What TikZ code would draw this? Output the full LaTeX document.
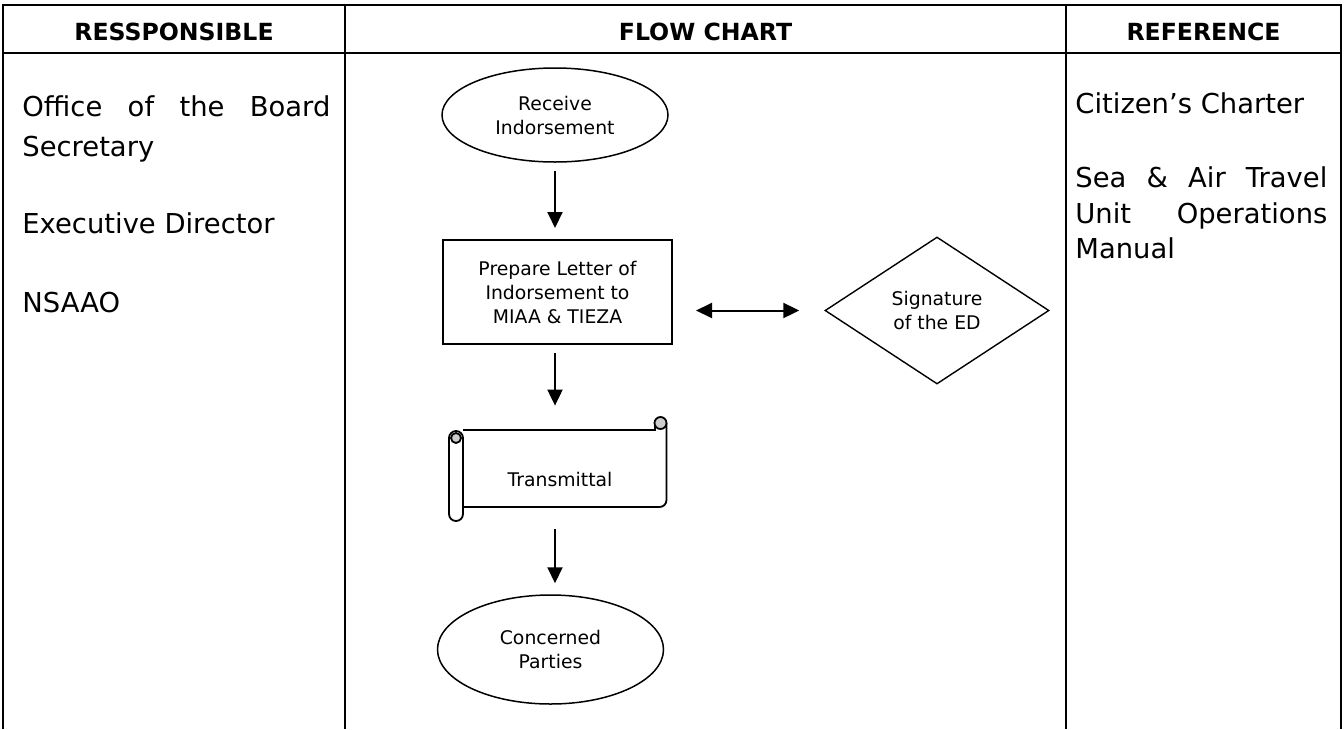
\documentclass[tikz,border=0pt]{standalone}
\usepackage{fontspec}
\setmainfont{DejaVu Sans}
\usetikzlibrary{shapes.geometric,arrows.meta,positioning}

\tikzset{
  cell/.style={font=\fontsize{13.7}{19}\selectfont, anchor=base west, inner sep=0pt},
  headtext/.style={font=\bfseries\fontsize{11.8}{14}\selectfont, anchor=base, inner sep=0pt},
  flowtext/.style={font=\fontsize{9.4}{12}\selectfont, align=center},
  terminal/.style={flowtext, draw, ellipse, line width=0.75pt, minimum width=113pt, minimum height=47pt, inner sep=0pt},
  process/.style={flowtext, draw, rectangle, line width=1pt, minimum width=114.5pt, minimum height=52pt, inner sep=0pt},
  decision/.style={flowtext, draw, diamond, line width=0.7pt, minimum width=112pt, minimum height=73.5pt, inner sep=0pt},
  flowarrow/.style={-{Triangle[length=8pt,width=7.5pt]}, line width=1pt, shorten <=4pt, shorten >=5.5pt},
  scrollline/.style={line width=0.9pt},
}

\begin{document}
\begin{tikzpicture}[x=0.5pt,y=-0.5pt]
    \useasboundingbox (0,0) rectangle (1344,729);
    % Table
    \draw[line width=1.2pt] (3,729) -- (3,5) -- (1341,5) -- (1341,729);
    \draw[line width=1.2pt] (3,53) -- (1341,53);
    \draw[line width=1.2pt] (345,5) -- (345,729);
    \draw[line width=1.2pt] (1066,5) -- (1066,729);

    % Header
    \node[headtext] (hresp) at (174,40) {RESSPONSIBLE};
    \node[headtext] (hflow) at (705.5,40) {FLOW CHART};
    \node[headtext] (href) at (1203.5,40) {REFERENCE};

    % Responsible column
    \node[cell] (board) at (22,116) {\makebox[154pt][s]{Office of the Board}};
    \node[cell] (secr) at (22,156) {Secretary};
    \node[cell] (exdir) at (22,233) {Executive Director};
    \node[cell] (nsaao) at (22,312) {NSAAO};

    % Reference column
    \node[cell] (charter) at (1075,113) {Citizen’s Charter};
    \node[cell] (seaair) at (1075,187) {\makebox[126pt][s]{Sea \& Air Travel}};
    \node[cell] (unitops) at (1075,223) {\makebox[126pt][s]{Unit Operations}};
    \node[cell] (manual) at (1075,258) {Manual};

    % Flow chart
    \node[terminal] (recv) at (555,115) {Receive\\Indorsement};
    \node[process] (prep) at (557.5,292) {Prepare Letter of\\Indorsement to\\MIAA \& TIEZA};
    \node[decision] (sign) at (937,310.5) {Signature\\of the ED};
    \node[minimum width=109pt, minimum height=52pt, inner sep=0pt] (scroll) at (558,469) {};
    \node[flowtext] (trans) at (560,479) {Transmittal};
    \node[terminal, minimum height=54.5pt] (conc) at (550.5,649.5) {Concerned\\Parties};

    % Scroll outline
    \draw[scrollline] (463,430) -- (655,430) -- (655,423);
    \draw[scrollline, rounded corners=3.5pt] (666.5,423) -- (666.5,507) -- (463,507);
    \draw[scrollline, fill=gray!40] (660.5,423) circle (3pt);
    \draw[scrollline, fill=white, rounded corners=3.5pt] (449,431) rectangle (463,521);
    \draw[scrollline, fill=gray!40] (456,438) circle (2.5pt);

    % Arrows
    \draw[flowarrow] (recv.south) -- (recv.south |- prep.north);
    \draw[flowarrow] (prep.south -| recv.south) -- (recv.south |- scroll.north);
    \draw[flowarrow] (scroll.south -| recv.south) -- (recv.south |- conc.north);
    \draw[{Triangle[length=8pt,width=7.5pt]}-{Triangle[length=8pt,width=7.5pt]}, line width=1pt,
          shorten <=11.5pt, shorten >=12.5pt] (prep.east |- sign.west) -- (sign.west);
\end{tikzpicture}
\end{document}
